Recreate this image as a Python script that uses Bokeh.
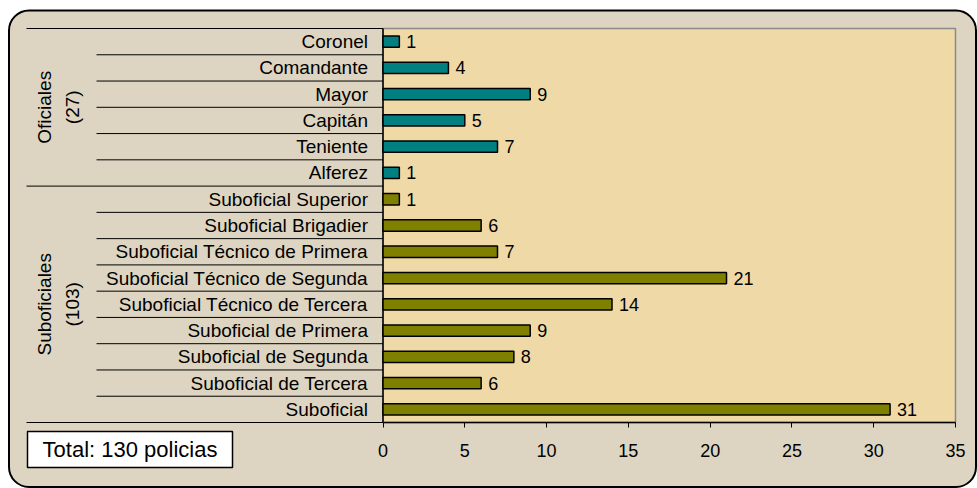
import math
from bokeh.plotting import figure
from bokeh.models import Range1d, FixedTicker, LinearAxis, BoxAnnotation, ColumnDataSource
from bokeh.core.properties import value
from bokeh.embed import file_html
from bokeh.resources import INLINE

# ---------------- data ----------------
groups = ["Oficiales", "Suboficiales"]
group_totals = [27, 103]
group_sizes = [6, 9]
categories = ["Coronel", "Comandante", "Mayor", "Capitán", "Teniente", "Alferez",
              "Suboficial Superior", "Suboficial Brigadier",
              "Suboficial Técnico de Primera", "Suboficial Técnico de Segunda",
              "Suboficial Técnico de Tercera", "Suboficial de Primera",
              "Suboficial de Segunda", "Suboficial de Tercera", "Suboficial"]
counts = [1, 4, 9, 5, 7, 1, 1, 6, 7, 21, 14, 9, 8, 6, 31]
x_ticks = [0, 5, 10, 15, 20, 25, 30, 35]
total_label = "Total: 130 policias"

# ---------------- styles ----------------
FONT = value("Liberation Sans")
OUTER = "#ddd5c1"
PLOT_BG = "#efd9a6"
GROUP_COLORS = ["#008080", "#808000"]

W, H = 977, 488
X0_PX, XMAX_PX = 382.5, 955.0           # px of x=0 and x=max tick
TOP_PX, BOT_PX = 28.0, 422.0            # px of bar area top/bottom
n = len(categories)
ppu = (XMAX_PX - X0_PX) / x_ticks[-1]
pitch = (BOT_PX - TOP_PX) / n


def fx(px):
    return (px - X0_PX) / ppu


def fy(py):
    return (BOT_PX - py) / pitch


p = figure(width=W, height=H,
           x_range=Range1d(fx(0), fx(W)), y_range=Range1d(fy(H), fy(0)),
           output_backend="svg", toolbar_location=None, tools="",
           x_axis_location=None, y_axis_location=None,
           min_border_left=0, min_border_right=0, min_border_top=0,
           min_border_bottom=0)
p.outline_line_color = None
p.background_fill_color = "white"
p.border_fill_color = "white"
p.grid.visible = False

# outer rounded panel
outer = BoxAnnotation(left=fx(8.5), right=fx(975.5), top=fy(10), bottom=fy(486.5),
                      fill_color=OUTER, fill_alpha=1.0, line_color="black",
                      line_alpha=1.0, line_width=2,
                      border_radius=20, level="underlay")
p.add_layout(outer)

# row positions from category order
ys = [n - i - 0.5 for i in range(n)]
cat_colors = []
for g, size in enumerate(group_sizes):
    cat_colors += [GROUP_COLORS[g]] * size

# plot area
p.quad(left=0, right=x_ticks[-1], bottom=0, top=n, fill_color=PLOT_BG,
       line_color="#8a8a8a", line_width=1.5)
p.segment(x0=0, y0=0, x1=0, y1=n, line_color="black", line_width=1.5)

# separators in label area
group_bounds = [n]
acc = n
for size in group_sizes:
    acc -= size
    group_bounds.append(acc)
cat_bounds = [b for b in range(1, n) if b not in group_bounds]
p.segment(x0=[fx(26)] * len(group_bounds), y0=group_bounds,
          x1=[0] * len(group_bounds), y1=group_bounds,
          line_color="black", line_width=1)
p.segment(x0=[fx(96)] * len(cat_bounds), y0=cat_bounds,
          x1=[0] * len(cat_bounds), y1=cat_bounds,
          line_color="black", line_width=1)

src = ColumnDataSource(dict(y=ys, cat=categories, v=counts,
                            vt=[str(c) for c in counts], color=cat_colors))

# bars
p.hbar(y="y", left=0, right="v", height=0.43, fill_color="color",
       line_color="black", line_width=1.5, source=src)

# category labels
p.text(x=0, y="y", text="cat", x_offset=-15, text_align="right",
       text_baseline="middle", text_font=FONT, text_font_size="19px",
       text_color="black", source=src)

# value labels
p.text(x="v", y="y", text="vt", x_offset=7, text_align="left",
       text_baseline="middle", text_font=FONT, text_font_size="18px",
       text_color="black", source=src)

# group labels
gmid = [(group_bounds[i] + group_bounds[i + 1]) / 2 for i in range(len(groups))]
p.text(x=[fx(44)] * len(groups), y=gmid, text=groups, angle=math.pi / 2,
       text_align="center", text_baseline="middle", text_font=FONT,
       text_font_size="19px", text_color="black")
p.text(x=[fx(72)] * len(groups), y=gmid, text=["(%d)" % t for t in group_totals],
       angle=math.pi / 2, text_align="center", text_baseline="middle",
       text_font=FONT, text_font_size="19px", text_color="black")

# x axis drawn at y = 0 inside the frame
ax = LinearAxis(fixed_location=0)
ax.ticker = FixedTicker(ticks=x_ticks)
ax.bounds = (x_ticks[0], x_ticks[-1])
ax.axis_line_color = "black"
ax.axis_line_width = 1.5
ax.major_tick_line_color = "black"
ax.major_tick_out = 5
ax.major_tick_in = 0
ax.minor_tick_line_color = None
ax.major_label_text_font = "Liberation Sans"
ax.major_label_text_font_size = "18px"
ax.major_label_text_color = "black"
ax.major_label_standoff = 16
p.add_layout(ax, "below")

# total box
p.quad(left=fx(27), right=fx(232), top=fy(431), bottom=fy(467),
       fill_color="white", line_color="black", line_width=1.5)
p.text(x=[fx(129.5)], y=[fy(449)], text=[total_label], text_align="center",
       text_baseline="middle", text_font=FONT, text_font_size="22px",
       text_color="black")

open("out.html", "w").write(file_html(p, INLINE))
